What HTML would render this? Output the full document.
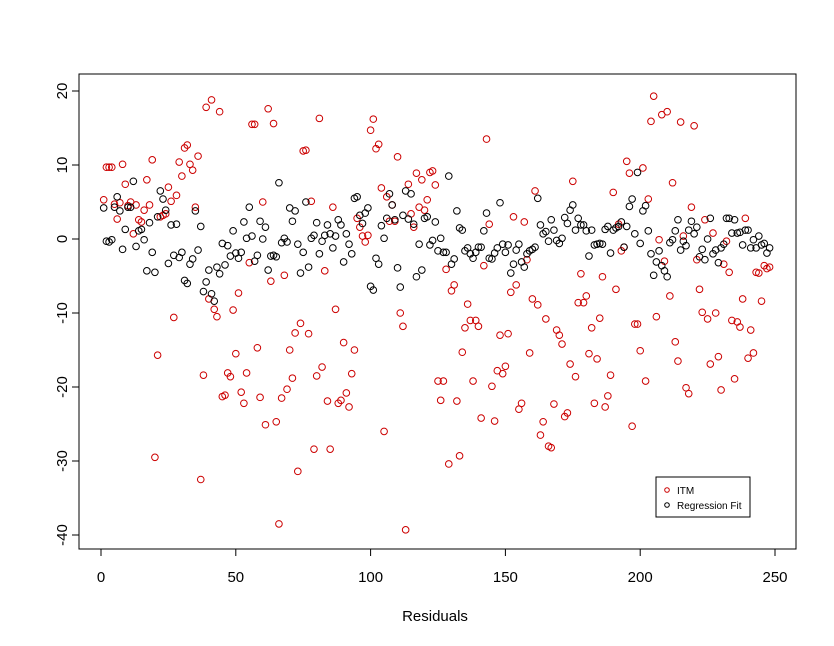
<!DOCTYPE html>
<html><head><meta charset="utf-8"><style>
body{margin:0;background:#fff;}
svg{display:block;font-family:"Liberation Sans",Arial,sans-serif;}
</style></head><body>
<svg id="chart" width="834" height="646" viewBox="0 0 834 646" xmlns="http://www.w3.org/2000/svg">
<rect x="79" y="74" width="717" height="475" fill="none" stroke="#000" stroke-width="1"/>
<g id="xaxis"></g>
<g id="yaxis"></g>
<g id="pts"></g>
<text x="435" y="621" font-size="15" text-anchor="middle">Residuals</text>
<g>
<rect x="656" y="477" width="94" height="40" fill="#fff" stroke="#000"/>
<g><circle cx="667" cy="490" r="2.3" fill="none" stroke="#cc0000"/><text x="677" y="494" font-size="10">ITM</text></g>
<g><circle cx="667" cy="505" r="2.3" fill="none" stroke="#000"/><text x="677" y="509" font-size="10">Regression Fit</text></g>
</g>
</svg>
<script>
const xTicks=[0,50,100,150,200,250];
const yTicks=[-40,-30,-20,-10,0,10,20];
const itm=[5.3,9.7,9.7,9.7,4.7,2.7,4.9,10.1,7.4,4.5,
5,0.7,4.6,2.6,2.3,3.9,8,4.6,10.7,-29.5,
-15.7,3,3.2,3.4,7,5.1,-10.6,5.9,10.4,8.5,
12.3,12.7,10.1,9.3,4.3,11.2,-32.5,-18.4,17.8,-8.1,
18.8,-9.5,-10.5,17.2,-21.3,-21.1,-18.1,-18.6,-9.6,-15.5,
-7.3,-20.7,-22.2,-18.1,-3.2,15.5,15.5,-14.7,-21.4,5.0,
-25.1,17.6,-5.7,15.6,-24.7,-38.5,-21.5,-4.9,-20.3,-15.0,
-18.8,-12.7,-31.4,-11.4,11.9,12.0,-12.8,5.1,-28.4,-18.5,
16.3,-17.3,-4.3,-21.9,-28.4,4.3,-9.5,-22.2,-21.8,-14.0,
-20.8,-22.7,-18.2,-15.0,2.8,1.6,0.4,-0.4,0.5,14.7,
16.2,12.2,12.8,6.9,-26,5.7,2.4,4.6,2.4,11.1,
-10,-11.8,-39.3,7.4,3.4,1.6,8.9,4.3,8,3.9,
5.3,9,9.2,7.3,-19.2,-21.8,-19.2,-4.1,-30.4,-7,
-6.2,-21.9,-29.3,-15.3,-12,-8.8,-11,-19.2,-11,-11.8,
-24.2,-3.6,13.5,2.0,-19.9,-24.6,-17.8,-13,-18.2,-17.2,
-12.8,-7.2,3,-6.2,-23,-22.2,2.3,-2.8,-15.4,-8.1,
6.5,-8.9,-26.5,-24.7,-10.8,-28,-28.2,-22.3,-12.3,-13,
-14.2,-24,-23.5,-16.9,7.8,-18.6,-8.6,-4.7,-8.6,-7.7,
-15.5,-12,-22.2,-16.2,-10.7,-5.1,-22.7,-21.2,-18.4,6.3,
-6.8,2,-1.6,-1.1,10.5,8.9,-25.3,-11.5,-11.5,-15.1,
9.6,-19.2,5.4,15.9,19.3,-10.5,-0.1,16.8,-3,17.2,
-7.7,7.6,-13.9,-16.5,15.8,0.4,-20.1,-20.9,4.3,15.3,
-2.8,-6.8,-9.9,2.6,-10.8,-16.9,0.8,-10,-15.9,-20.4,
-3.4,-0.3,-4.5,-11,-18.9,-11.2,-11.9,-8.1,2.8,-16.1,
-12.3,-15.4,-4.5,-4.6,-8.4,-3.6,-4.0,-3.8];
const fit=[4.2,-0.3,-0.4,-0.1,4.3,5.7,3.8,-1.4,1.3,4.3,
4.3,7.8,-1,1.1,1.3,-0.1,-4.3,2.2,-1.8,-4.5,
3.0,6.5,5.4,3.9,-3.3,1.9,-2.2,2.0,-2.5,-1.8,
-5.6,-6.0,-3.4,-2.7,3.8,-1.5,1.7,-7.1,-5.8,-4.2,
-7.4,-8.4,-3.8,-4.7,-0.6,-3.5,-0.9,-2.3,1.1,-1.9,
-2.6,-1.8,2.3,0.1,4.3,0.4,-3,-2.2,2.4,0,
1.6,-4.2,-2.3,-2.2,-2.4,7.6,-0.5,0.1,-0.4,4.2,
2.4,3.8,-0.7,-4.6,-1.8,5,-3.8,0.1,0.5,2.2,
-2,-0.3,0.5,1.9,0.7,-1.2,0.4,2.6,1.9,-3.1,
0.7,-0.7,-2,5.5,5.7,3.2,2.1,3.5,4.2,-6.4,
-6.9,-2.6,-3.4,1.8,0.1,2.8,6.1,4.6,2.6,-3.9,
-6.5,3.2,6.5,2.7,6.1,2,-5.1,-0.7,-4.2,2.8,
3,-0.8,-0.2,2.3,-1.6,0.1,-1.8,-1.8,8.5,-3.4,
-2.7,3.8,1.5,1.2,-1.6,-1.2,-2,-2.6,-1.8,-1.1,
-1.1,1.1,3.5,-2.6,-2.7,-1.9,-1.2,4.9,-0.7,-1.8,
-0.8,-4.6,-3.4,-1.5,-0.7,-3.1,-3.8,-2,-1.6,-1.4,
-1.1,5.5,1.9,0.7,1,-0.3,2.6,1.2,-0.2,-0.6,
0.1,2.9,2.1,3.9,4.6,1.2,2.8,1.9,1.9,1.1,
-2.3,1.2,-0.8,-0.7,-0.6,-0.7,1.3,1.7,-1.9,1.2,
1.5,1.7,2.3,-1.1,1.7,4.4,5.4,0.7,9,-0.6,
3.8,4.5,1.1,-2,-4.9,-3.1,-1.6,-3.6,-4.3,-5.1,
-0.5,-0.1,1.1,2.6,-1.5,-0.3,-0.9,1.2,2.4,0.7,
1.6,-2.4,-1.4,-2.8,0,2.8,-2,-1.5,-3.2,-1.2,
-0.7,2.8,2.8,0.8,2.6,0.8,0.9,-0.8,1.2,1.2,
-1.2,-0.1,-1.2,0.4,-0.8,-0.6,-1.9,-1.2];
const NS="http://www.w3.org/2000/svg";
const xs=v=>101+v*(775-101)/250;
const ys=v=>239-v*(535-91)/60;
function mk(tag,attrs,parent){const e=document.createElementNS(NS,tag);for(const k in attrs)e.setAttribute(k,attrs[k]);parent.appendChild(e);return e;}
const xa=document.getElementById('xaxis'),ya=document.getElementById('yaxis'),pts=document.getElementById('pts');
mk('line',{x1:xs(xTicks[0]),x2:xs(xTicks[xTicks.length-1]),y1:549,y2:549,stroke:'#000'},xa);
xTicks.forEach(t=>{
  const l=mk('line',{x1:xs(t),x2:xs(t),y1:549,y2:556,stroke:'#000'},xa);
  
  
  const tx=mk('text',{x:xs(t),y:582,'font-size':15,'text-anchor':'middle'},xa);
  tx.textContent=t;
  
  
});
mk('line',{x1:79,x2:79,y1:ys(yTicks[0]),y2:ys(yTicks[yTicks.length-1]),stroke:'#000'},ya);
yTicks.forEach(t=>{
  const l=mk('line',{x1:72,x2:79,y1:ys(t),y2:ys(t),stroke:'#000'},ya);
  
  
  const tx=mk('text',{x:0,y:0,'font-size':15,'text-anchor':'middle',transform:`translate(67,${ys(t)}) rotate(-90)`},ya);
  tx.textContent=t;
  
  
});
itm.forEach((v,i)=>{
  const c=mk('circle',{cx:xs(i+1),cy:ys(v),r:3.3,fill:'none',stroke:'#cc0000','stroke-width':1},pts);
  
  
});
fit.forEach((v,i)=>{
  const c=mk('circle',{cx:xs(i+1),cy:ys(v),r:3.3,fill:'none',stroke:'#000','stroke-width':1},pts);
  
  
});
</script>
</body></html>
